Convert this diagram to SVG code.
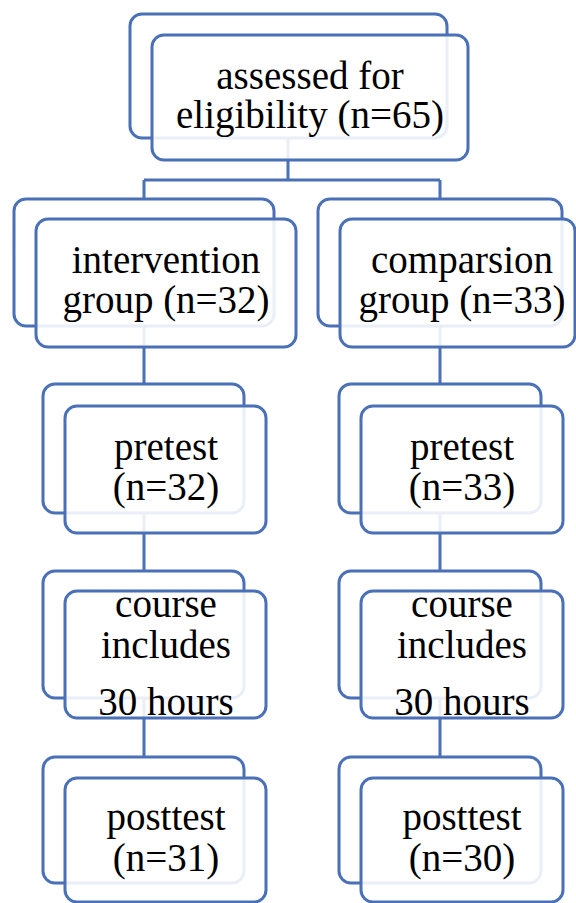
<svg xmlns="http://www.w3.org/2000/svg" width="576" height="903" viewBox="0 0 576 903">
<style>
.back{fill:#ffffff;stroke:#4A70B8;stroke-width:3}
.front{fill:#ffffff;fill-opacity:0.88;stroke:#4A70B8;stroke-width:3}
.conn{fill:none;stroke:#4A70B8;stroke-width:3}
text{font-family:"Liberation Serif","Times New Roman",serif;font-size:39px;fill:#000000;text-anchor:middle}
</style>
<rect width="576" height="903" fill="#ffffff"/>
<g id="connectors">
<path class="conn" d="M288,138 V180 M144,180 H440 M144,180 V199 M440,180 V199"/>
<path class="conn" d="M144,326 V384 M440,326 V384"/>
<path class="conn" d="M144,513 V571 M440,513 V571"/>
<path class="conn" d="M144,698 V757 M440,698 V757"/>
</g>
<g id="assessed">
<rect class="back" x="130" y="14" width="317" height="124" rx="12"/>
<rect class="front" x="152" y="35" width="316" height="125" rx="12"/>
<text x="310" y="89">assessed for</text>
<text x="310" y="128">eligibility (n=65)</text>
</g>
<g id="intervention">
<rect class="back" x="14" y="199" width="260" height="127" rx="12"/>
<rect class="front" x="36" y="219" width="260" height="128" rx="12"/>
<text x="166" y="273">intervention</text>
<text x="166" y="313">group (n=32)</text>
</g>
<g id="comparison">
<rect class="back" x="318" y="199" width="244" height="127" rx="12"/>
<rect class="front" x="340" y="219" width="235" height="128" rx="12"/>
<text x="462" y="273">comparsion</text>
<text x="462" y="313">group (n=33)</text>
</g>
<g id="pretest-left">
<rect class="back" x="43" y="384" width="201" height="129" rx="12"/>
<rect class="front" x="65" y="406" width="201" height="127" rx="12"/>
<text x="166" y="460">pretest</text>
<text x="166" y="500">(n=32)</text>
</g>
<g id="pretest-right">
<rect class="back" x="339" y="384" width="202" height="129" rx="12"/>
<rect class="front" x="361" y="406" width="202" height="127" rx="12"/>
<text x="462" y="460">pretest</text>
<text x="462" y="500">(n=33)</text>
</g>
<g id="course-left">
<rect class="back" x="43" y="571" width="201" height="127" rx="12"/>
<rect class="front" x="65" y="591" width="201" height="127" rx="12"/>
<text x="166" y="617">course</text>
<text x="166" y="658">includes</text>
<text x="166" y="715">30 hours</text>
</g>
<g id="course-right">
<rect class="back" x="339" y="571" width="202" height="127" rx="12"/>
<rect class="front" x="361" y="591" width="202" height="127" rx="12"/>
<text x="462" y="617">course</text>
<text x="462" y="658">includes</text>
<text x="462" y="715">30 hours</text>
</g>
<g id="posttest-left">
<rect class="back" x="43" y="757" width="201" height="126" rx="12"/>
<rect class="front" x="65" y="778" width="201" height="124" rx="12"/>
<text x="166" y="830">posttest</text>
<text x="166" y="871">(n=31)</text>
</g>
<g id="posttest-right">
<rect class="back" x="339" y="757" width="202" height="126" rx="12"/>
<rect class="front" x="361" y="778" width="202" height="124" rx="12"/>
<text x="462" y="830">posttest</text>
<text x="462" y="871">(n=30)</text>
</g>
</svg>
